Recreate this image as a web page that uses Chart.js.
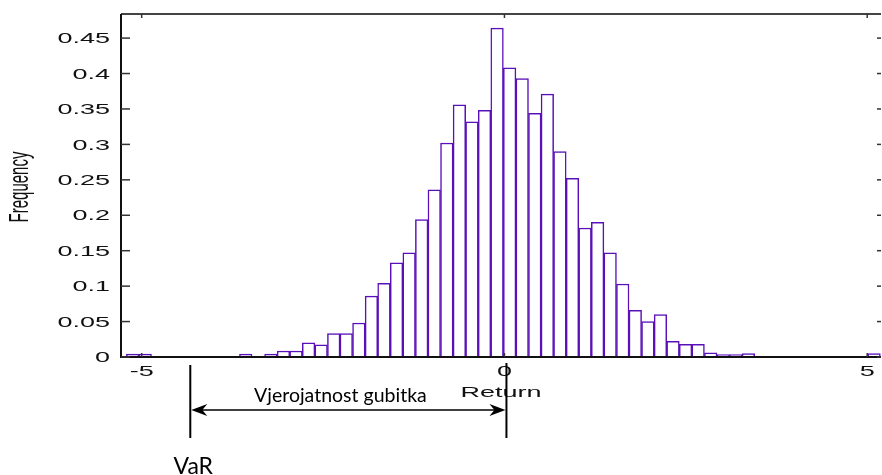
<!DOCTYPE html>
<html>
<head>
<meta charset="utf-8">
<script src="https://cdn.jsdelivr.net/npm/chart.js@4.4.1/dist/chart.umd.min.js"></script>
<style>
  html, body { margin: 0; padding: 0; background: #fff; }
  #wrap { width: 882px; height: 475px; }
</style>
</head>
<body>
<div id="wrap"><canvas id="chart" width="882" height="475"></canvas></div>
<script>
// Histogram of returns (60 equal bins), normalised frequency
const binStart = -5.211;
const binWidth = 0.1732;
const frequency = [
  0.004, 0.004, 0, 0, 0, 0, 0, 0, 0, 0.004,
  0, 0.004, 0.0085, 0.0085, 0.020, 0.017, 0.033, 0.033, 0.048, 0.086,
  0.104, 0.133, 0.147, 0.194, 0.236, 0.302, 0.356, 0.332, 0.348, 0.464,
  0.408, 0.393, 0.344, 0.371, 0.290, 0.252, 0.182, 0.190, 0.147, 0.103,
  0.066, 0.050, 0.060, 0.022, 0.018, 0.018, 0.006, 0.0035, 0.0035, 0.005,
  0, 0, 0, 0, 0, 0, 0, 0, 0, 0.005
];
const xTicks = [-5, 0, 5];
const yTicks = [0, 0.05, 0.1, 0.15, 0.2, 0.25, 0.3, 0.35, 0.4, 0.45];
const xLabel = 'Return';
const yLabel = 'Frequency';

// annotation under the axis
const varValue = -4.33;
const lossLabel = 'Vjerojatnost gubitka';
const varLabel = 'VaR';

// the source figure has its axis text stretched sideways
const STRETCH = 1.8;
const AXIS_FONT = '15px "Liberation Sans", Arial, sans-serif';
const NOTE_FONT = '"Lato", "Open Sans", sans-serif';

const points = frequency.map((f, i) => ({ x: binStart + (i + 0.5) * binWidth, y: f }));

// matlab style labels: 0.4 not 0.40
const fmt = v => String(+v.toFixed(2));

function line(ctx, x1, y1, x2, y2) {
  ctx.beginPath();
  ctx.moveTo(x1, y1);
  ctx.lineTo(x2, y2);
  ctx.stroke();
}

function wideText(ctx, text, x, y, align, baseline, rot) {
  ctx.save();
  ctx.translate(x, y);
  ctx.scale(STRETCH, 1);
  if (rot) ctx.rotate(rot);
  ctx.textAlign = align;
  ctx.textBaseline = baseline;
  ctx.fillText(text, 0, 0);
  ctx.restore();
}

function arrowHead(ctx, x, y, dir) {
  ctx.beginPath();
  ctx.moveTo(x, y);
  ctx.lineTo(x + dir * 16, y - 6);
  ctx.lineTo(x + dir * 11, y);
  ctx.lineTo(x + dir * 16, y + 6);
  ctx.closePath();
  ctx.fill();
}

const axesPlugin = {
  id: 'matlabAxes',
  afterDraw(chart) {
    const { ctx, chartArea: a } = chart;
    const xs = chart.scales.x, ys = chart.scales.y;
    ctx.save();

    // frame
    ctx.lineWidth = 2;
    ctx.strokeStyle = '#444';
    line(ctx, a.left, a.top, a.right, a.top);
    ctx.strokeStyle = '#111';
    ctx.beginPath();
    ctx.moveTo(a.left, a.top);
    ctx.lineTo(a.left, a.bottom);
    ctx.lineTo(a.right, a.bottom);
    ctx.stroke();

    // inward ticks
    ctx.lineWidth = 1.5;
    ctx.strokeStyle = '#333';
    ys.ticks.forEach(t => {
      const y = ys.getPixelForValue(t.value);
      line(ctx, a.left, y, a.left + 9, y);
      line(ctx, a.right - 4, y, a.right, y);
    });
    xs.ticks.forEach(t => {
      const x = xs.getPixelForValue(t.value);
      line(ctx, x, a.top, x, a.top + 4);
      line(ctx, x, a.bottom, x, a.bottom - 4);
    });

    // tick labels and axis titles
    ctx.fillStyle = '#111';
    ctx.font = AXIS_FONT;
    ys.ticks.forEach(t => {
      wideText(ctx, fmt(t.value), a.left - 11, ys.getPixelForValue(t.value) + 1, 'right', 'middle');
    });
    xs.ticks.forEach(t => {
      wideText(ctx, fmt(t.value), xs.getPixelForValue(t.value), a.bottom + 15, 'center', 'middle');
    });
    wideText(ctx, xLabel, (a.left + a.right) / 2, a.bottom + 40, 'center', 'alphabetic');
    wideText(ctx, yLabel, 21, 187, 'center', 'middle', -Math.PI / 2);

    // VaR annotation
    const x0 = xs.getPixelForValue(0) + 2;
    const xv = xs.getPixelForValue(varValue);
    ctx.strokeStyle = '#000';
    ctx.fillStyle = '#000';
    ctx.lineWidth = 2;
    line(ctx, xv, a.bottom + 8, xv, a.bottom + 81);
    line(ctx, x0, a.bottom + 6, x0, a.bottom + 81);
    ctx.lineWidth = 1.5;
    line(ctx, xv + 4, a.bottom + 53, x0 - 4, a.bottom + 53);
    arrowHead(ctx, xv + 1, a.bottom + 53, 1);
    arrowHead(ctx, x0 - 1, a.bottom + 53, -1);

    ctx.textAlign = 'center';
    ctx.textBaseline = 'alphabetic';
    ctx.font = '19.5px ' + NOTE_FONT;
    ctx.fillText(lossLabel, (xv + x0) / 2 - 8, a.bottom + 45);
    ctx.font = '23px ' + NOTE_FONT;
    ctx.fillText(varLabel, xv + 3, a.bottom + 117);

    ctx.restore();
  }
};

new Chart(document.getElementById('chart'), {
  type: 'bar',
  data: {
    datasets: [{
      data: points,
      backgroundColor: '#ffffff',
      borderColor: '#5a10b8',
      borderWidth: 1.5,
      barPercentage: 1,
      categoryPercentage: 1
    }]
  },
  options: {
    responsive: false,
    animation: false,
    devicePixelRatio: 1,
    layout: { padding: { left: 121, top: 14, right: 1, bottom: 118 } },
    plugins: { legend: { display: false }, tooltip: { enabled: false } },
    scales: {
      x: {
        type: 'linear',
        offset: false,
        min: -5.285,
        max: 5.19,
        grid: { display: false },
        border: { display: false },
        ticks: { display: false },
        afterBuildTicks: s => { s.ticks = xTicks.map(v => ({ value: v })); },
        afterFit: s => { s.height = 0; }
      },
      y: {
        min: 0,
        max: 0.484,
        grid: { display: false },
        border: { display: false },
        ticks: { display: false },
        afterBuildTicks: s => { s.ticks = yTicks.map(v => ({ value: v })); },
        afterFit: s => { s.width = 0; }
      }
    }
  },
  plugins: [axesPlugin]
});
</script>
</body>
</html>
